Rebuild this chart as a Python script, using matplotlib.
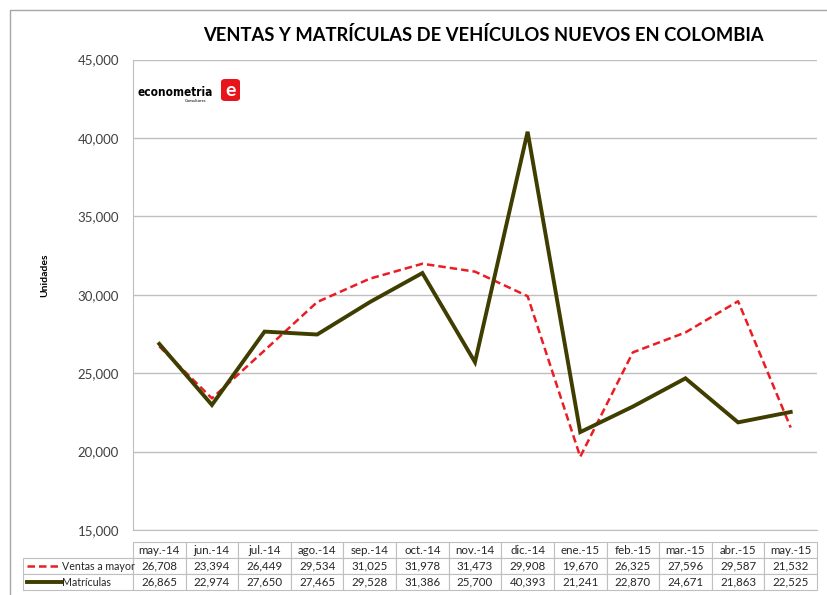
import matplotlib.pyplot as plt
from matplotlib.lines import Line2D
from matplotlib.patches import FancyBboxPatch
from matplotlib.ticker import FuncFormatter

plt.rcParams["font.family"] = ["Lato", "DejaVu Sans"]

MONTHS = ["may.-14", "jun.-14", "jul.-14", "ago.-14", "sep.-14", "oct.-14", "nov.-14",
          "dic.-14", "ene.-15", "feb.-15", "mar.-15", "abr.-15", "may.-15"]
VENTAS = [26708, 23394, 26449, 29534, 31025, 31978, 31473, 29908, 19670, 26325, 27596, 29587, 21532]
MATRICULAS = [26865, 22974, 27650, 27465, 29528, 31386, 25700, 40393, 21241, 22870, 24671, 21863, 22525]
SERIES_NAMES = ["Ventas a mayor", "Matrículas"]

RED = "#ea1c24"
OLIVE = "#3f3d00"
GRAY = "#bfbfbf"

fig = plt.figure(figsize=(8.28, 5.95), dpi=100)
W, H = 828, 595
ax = fig.add_axes([133 / W, 1 - 530 / H, 684 / W, 470.5 / H])

x = list(range(len(MONTHS)))
ax.plot(x, VENTAS, color=RED, linestyle=(0, (3, 1.6)), linewidth=1.8, zorder=3)
ax.plot(x, MATRICULAS, color=OLIVE, linewidth=2.8, zorder=4, solid_joinstyle="miter")

ax.set_xlim(-0.5, len(MONTHS) - 0.5)
ax.set_ylim(15000, 45000)
ax.set_yticks(range(15000, 45001, 5000))
ax.yaxis.set_major_formatter(FuncFormatter(lambda v, p: f"{int(v):,}"))
ax.tick_params(axis="y", length=0, pad=10, labelsize=9.5, labelcolor="#404040")
ax.set_xticks([])
ax.grid(axis="y", color=GRAY, linewidth=1)
ax.set_axisbelow(True)
for s in ["top", "right"]:
    ax.spines[s].set_visible(False)
ax.spines["left"].set_color(GRAY)
ax.spines["bottom"].set_color(GRAY)

ax.set_ylabel("Unidades", fontsize=7.5, fontweight="bold")
ax.yaxis.set_label_coords(-84 / 684, 255 / 470.5)

fig.text(483 / W, 1 - 35 / H, "VENTAS Y MATRÍCULAS DE VEHÍCULOS NUEVOS EN COLOMBIA",
         ha="center", va="center", fontsize=13.2, fontweight="bold")

# data table below the chart
cell_text = [[""] + [f"{v:,}" for v in VENTAS],
             [""] + [f"{v:,}" for v in MATRICULAS]]
tbl = ax.table(cellText=cell_text, colLabels=[""] + MONTHS,
               colWidths=[110] + [684 / 13] * 13,
               bbox=[-110 / 684, -60 / 470.5, 794 / 684, 48 / 470.5],
               cellLoc="center")
tbl.auto_set_font_size(False)
for (r, c), cell in tbl.get_celld().items():
    cell.set_edgecolor(GRAY)
    cell.set_linewidth(0.8)
    cell.get_text().set_fontsize(8.3)
    cell.get_text().set_color("#262626")
    if r == 0 and c == 0:
        cell.visible_edges = ""

# row labels with legend keys
fig.text(62 / W, 1 - 566 / H, SERIES_NAMES[0], fontsize=7.7, color="#262626", ha="left", va="center")
fig.text(62 / W, 1 - 582 / H, SERIES_NAMES[1], fontsize=7.7, color="#262626", ha="left", va="center")
fig.add_artist(Line2D([27 / W, 60 / W], [1 - 566 / H] * 2, color=RED,
                      linestyle=(0, (3, 1.6)), linewidth=1.8))
fig.add_artist(Line2D([27 / W, 62 / W], [1 - 582 / H] * 2, color=OLIVE, linewidth=2.8))

# logo
fig.text(138 / W, 1 - 92 / H, "econometria", fontsize=8.5, fontweight="heavy",
         fontstretch="condensed", ha="left", va="center", family="DejaVu Sans")
fig.text(196 / W, 1 - 101 / H, "Consultores", fontsize=3, ha="center", va="center")
fig.add_artist(FancyBboxPatch((221 / W, 1 - 101 / H), 19 / W, 22 / H,
                              boxstyle="round,pad=0,rounding_size=0.005",
                              transform=fig.transFigure, facecolor="#e8141c", edgecolor="none"))
fig.text(230.5 / W, 1 - 90 / H, "e", fontsize=14, fontweight="bold", color="white",
         ha="center", va="center")

# outer border
fig.add_artist(Line2D([10 / W, 10 / W, 827 / W], [0, 1 - 10 / H, 1 - 10 / H], color="#a6a6a6", linewidth=1))

fig.savefig("out.png", dpi=100)
